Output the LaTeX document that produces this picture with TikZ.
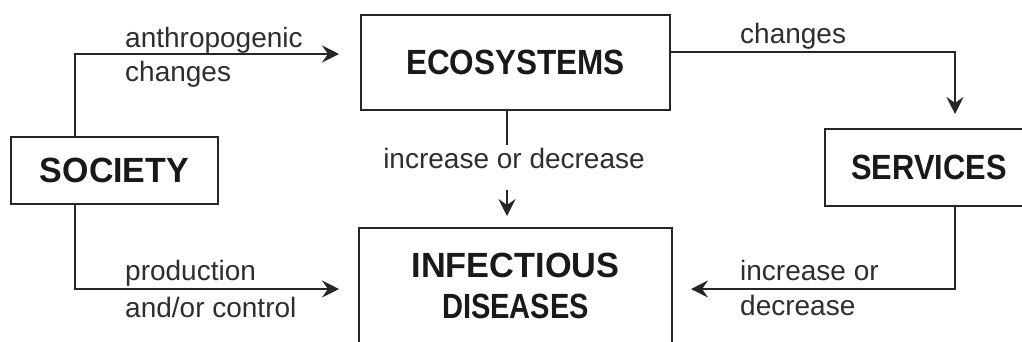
\documentclass[tikz,border=0pt]{standalone}
\usepackage{fontspec}
\setmainfont{Liberation Sans}
\usepackage{graphicx}
\usetikzlibrary{arrows.meta,calc}
\begin{document}
\begin{tikzpicture}[x=1pt,y=-1pt,
  boxnode/.style={draw=black!85, line width=2pt, rectangle, inner sep=0pt,
    font=\fontsize{35}{41}\selectfont\bfseries, text=black!90, align=center},
  lbl/.style={font=\fontsize{28}{33}\selectfont, text=black!82, inner sep=0pt, anchor=base west},
  plain/.style={draw=black!85, line width=2pt},
  conn/.style={plain, -{Stealth[length=17pt,width=17pt,inset=6pt]}}
]
\useasboundingbox (0,0) rectangle (1022,341);
\fill[white] (0,0) rectangle (1022,341);
\clip (0,0) rectangle (1022,341);

\node[boxnode, minimum width=207pt, minimum height=67pt] (soc) at (114.5,170.5) {\scalebox{0.97}[1]{SOCIETY}};
\node[boxnode, minimum width=309pt, minimum height=95pt] (eco) at (515.5,62.5) {\scalebox{0.9}[1]{ECOSYSTEMS}};
\node[boxnode, minimum width=208pt, minimum height=77pt] (ser) at (929,167.5) {\scalebox{0.88}[1]{SERVICES}};
\node[boxnode, minimum width=313pt, minimum height=116pt] (inf) at (515.5,286) {\scalebox{0.98}[1]{INFECTIOUS}\\\scalebox{0.83}[1]{DISEASES}};

\coordinate (sx) at (75,0);
\coordinate (ex) at (507,0);
\coordinate (rx) at (955,0);
\coordinate (topy) at (0,54);
\coordinate (chy) at (0,52);
\coordinate (lowy) at (0,289);
\coordinate (e1) at (507,145);
\coordinate (e2) at (507,190);

\draw[conn, shorten >=21pt] (soc.north -| sx) |- (eco.west |- topy);
\draw[conn, shorten >=19pt] (soc.south -| sx) |- (inf.west |- lowy);
\draw[plain] (eco.south -| ex) -- (e1);
\draw[conn, shorten >=11pt] (e2) -- (inf.north -| ex);
\draw[conn, shorten >=14pt] (eco.east |- chy) -| (ser.north -| rx);
\draw[conn, shorten >=18pt] (ser.south -| rx) |- (inf.east |- lowy);

\node[lbl] (l1) at (125,47) {anthropogenic};
\node[lbl] (l2) at (125,81) {changes};
\node[lbl] (l3) at (125,280) {production};
\node[lbl] (l4) at (125,317) {and/or control};
\node[lbl] (l5) at (740,43) {changes};
\node[lbl] (l6) at (740,280) {increase or};
\node[lbl] (l7) at (740,315) {decrease};
\node[lbl, anchor=base] (l8) at (514,168) {increase or decrease};
\end{tikzpicture}
\end{document}
